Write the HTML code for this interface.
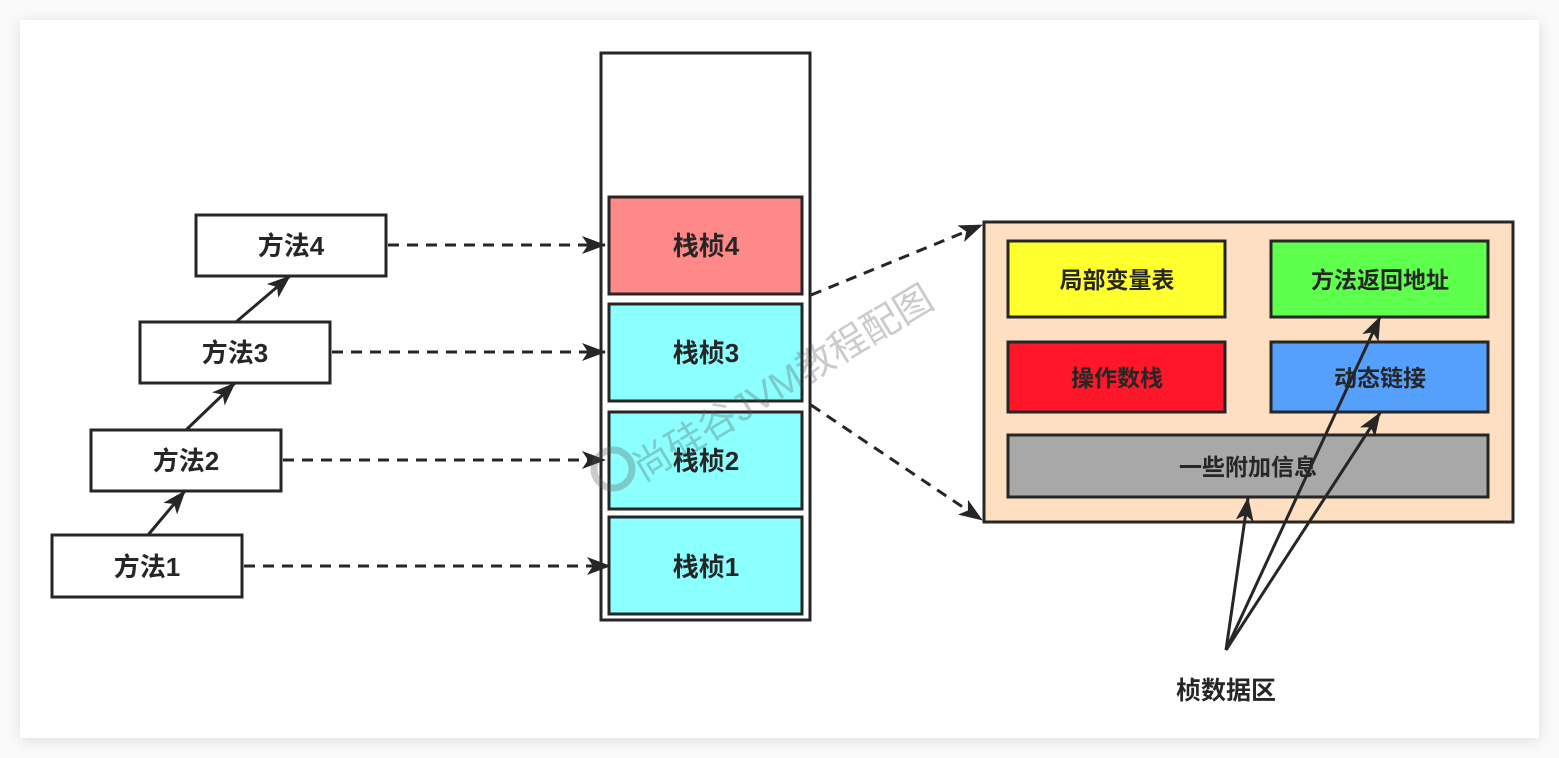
<!DOCTYPE html>
<html><head><meta charset="utf-8"><style>
html,body{margin:0;padding:0;width:1559px;height:758px;background:#fafafa;overflow:hidden}
.card{position:absolute;left:20px;top:20px;width:1519px;height:718px;background:#fff;box-shadow:0 2px 14px rgba(0,0,0,0.12)}
svg{position:absolute;left:0;top:0}
text{font-family:"Liberation Sans","Noto Sans CJK SC",sans-serif;font-weight:bold;fill:#262626}
</style></head><body>
<div class="card"></div>
<svg width="1559" height="758" viewBox="0 0 1559 758">
<defs>
<marker id="b" markerWidth="24" markerHeight="18" refX="23" refY="9" orient="auto" markerUnits="userSpaceOnUse" viewBox="0 0 24 18">
<path d="M0,0 L24,9 L0,18 L6,9 Z" fill="#262626"/></marker>
</defs>
<g stroke="#262626" stroke-width="3">
<rect x="601" y="53" width="209" height="567" fill="#fff"/>
<rect x="609" y="197" width="193" height="97" fill="#ff8888"/>
<rect x="609" y="304" width="193" height="97" fill="#8cffff"/>
<rect x="609" y="412" width="193" height="97" fill="#8cffff"/>
<rect x="609" y="517" width="193" height="97" fill="#8cffff"/>
<rect x="196" y="215" width="190" height="61" fill="#fff"/>
<rect x="140" y="322" width="190" height="61" fill="#fff"/>
<rect x="91" y="430" width="190" height="61" fill="#fff"/>
<rect x="52" y="535" width="190" height="62" fill="#fff"/>
<rect x="984" y="222" width="529" height="300" fill="#ffdfc2"/>
<rect x="1008" y="241" width="217" height="76" fill="#ffff2e"/>
<rect x="1271" y="241" width="217" height="76" fill="#5fff4e"/>
<rect x="1008" y="342" width="217" height="70" fill="#ff1629"/>
<rect x="1271" y="342" width="217" height="70" fill="#559ffd"/>
<rect x="1008" y="435" width="480" height="62" fill="#a8a8a8"/>
</g>
<g stroke="#262626" stroke-width="3" stroke-dasharray="11 8" fill="none" marker-end="url(#b)">
<line x1="388" y1="245" x2="605" y2="245"/>
<line x1="332" y1="352" x2="605" y2="352"/>
<line x1="283" y1="460" x2="605" y2="460"/>
<line x1="244" y1="566" x2="610" y2="566"/>
<line x1="811" y1="295" x2="982" y2="225"/>
<line x1="811" y1="405" x2="982" y2="520"/>
</g>
<g stroke="#262626" stroke-width="3" fill="none" marker-end="url(#b)">
<line x1="148" y1="535" x2="185" y2="491"/>
<line x1="186" y1="430" x2="235" y2="383"/>
<line x1="236" y1="322" x2="290" y2="276"/>
<line x1="1226" y1="650" x2="1248" y2="498"/>
<line x1="1226" y1="650" x2="1380" y2="317"/>
<line x1="1226" y1="650" x2="1380" y2="413"/>
</g>
<g font-size="26" text-anchor="middle">
<text x="291" y="255">方法4</text>
<text x="235" y="362">方法3</text>
<text x="186" y="470">方法2</text>
<text x="147" y="576">方法1</text>
<text x="706" y="255">栈桢4</text>
<text x="706" y="362">栈桢3</text>
<text x="706" y="470">栈桢2</text>
<text x="706" y="576">栈桢1</text>
</g>
<g font-size="23" text-anchor="middle">
<text x="1117" y="288">局部变量表</text>
<text x="1380" y="288">方法返回地址</text>
<text x="1117" y="386">操作数栈</text>
<text x="1380" y="386">动态链接</text>
<text x="1248" y="475">一些附加信息</text>
</g>
<text x="1226" y="699" font-size="25" text-anchor="middle">桢数据区</text>
<g opacity="0.3">
<circle cx="613" cy="469" r="19" fill="none" stroke="#555" stroke-width="7"/>
<text x="0" y="0" font-size="38" style="fill:#555;font-weight:normal" transform="translate(643,482) rotate(-31)">尚硅谷JVM教程配图</text>
</g>
</svg>
</body></html>
